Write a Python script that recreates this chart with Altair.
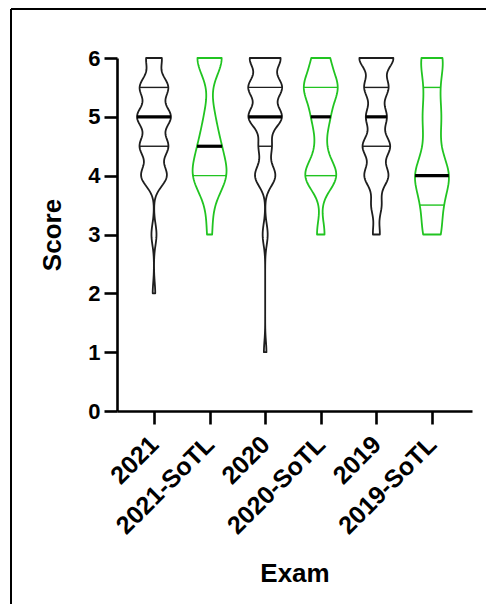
import json
import altair as alt
import pandas as pd

# ---------------- data ----------------
EXAMS = ["2021", "2021-SoTL", "2020", "2020-SoTL", "2019", "2019-SoTL"]
SCORES = [1, 2, 3, 3.5, 4, 4.5, 5, 5.5, 6]
# number of students per score (same order as SCORES)
COUNTS_2021 = [0, 1, 2, 0, 10, 11, 13, 11, 6]
COUNTS_2021_SOTL = [0, 0, 1, 1, 7, 4, 2, 0, 6]
COUNTS_2020 = [1, 0, 2, 0, 8, 5, 13, 13, 12]
COUNTS_2020_SOTL = [0, 0, 1, 0, 4, 1, 2, 4, 2]
COUNTS_2019 = [0, 0, 2, 3, 7, 8, 6, 7, 10]
COUNTS_2019_SOTL = [0, 0, 3, 3, 6, 2, 3, 2, 4]
COUNTS = [COUNTS_2021, COUNTS_2021_SOTL, COUNTS_2020,
          COUNTS_2020_SOTL, COUNTS_2019, COUNTS_2019_SOTL]
Q1 = [4.5, 4.0, 4.5, 4.0, 4.5, 3.5]
MEDIAN = [5.0, 4.5, 5.0, 5.0, 5.0, 4.0]
Q3 = [5.5, 6.0, 5.5, 5.5, 5.5, 5.5]
BANDWIDTH = [0.18, 0.3, 0.18, 0.25, 0.18, 0.3]
Y_TICKS = [0, 1, 2, 3, 4, 5, 6]

BLACK = "#1e1e1e"
GREEN = "#21c421"
COLORS = [BLACK, GREEN, BLACK, GREEN, BLACK, GREEN]
FONT = "Liberation Sans"
HALF = 0.305  # half violin width in category units

rows = []
for name, counts in zip(EXAMS, COUNTS):
    for s, c in zip(SCORES, counts):
        rows += [{"exam": name, "score": s}] * c
raw = pd.DataFrame(rows)

x_scale = alt.Scale(domain=[0.335, 6.72], nice=False, zero=False)
y_scale = alt.Scale(domain=[0, 6], nice=False, zero=True)
x_axis = alt.Axis(values=list(range(1, len(EXAMS) + 1)),
                  labelExpr=json.dumps(EXAMS) + "[datum.value - 1]",
                  labelAngle=-45, labelAlign="right", labelBaseline="middle",
                  labelFont=FONT, labelFontSize=25, labelFontWeight="bold",
                  labelColor="black", labelPadding=16, labelFlush=False,
                  labelOverlap=False, tickSize=13, tickWidth=2.6,
                  tickColor="black", domainWidth=2.6, domainColor="black",
                  grid=False, title="Exam", titleFont=FONT, titleFontSize=26,
                  titleFontWeight="bold", titleColor="black", titlePadding=22)
y_axis = alt.Axis(values=Y_TICKS, format="d", labelFont=FONT,
                  labelFontSize=22, labelFontWeight="bold", labelColor="black",
                  labelPadding=4, labelFlush=False, tickSize=13, tickWidth=2.6,
                  tickColor="black", domainWidth=2.6, domainColor="black",
                  grid=False, title="Score", titleFont=FONT, titleFontSize=26,
                  titleFontWeight="bold", titleColor="black", titlePadding=22)

layers = []
for i, name in enumerate(EXAMS):
    pos = i + 1
    present = [s for s, c in zip(SCORES, COUNTS[i]) if c > 0]
    lo, hi = min(present), max(present)
    steps = int(round((hi - lo) / 0.025))
    base = (alt.Chart(raw)
            .transform_filter(alt.datum.exam == name)
            .transform_density("score", as_=["value", "density"],
                               bandwidth=BANDWIDTH[i], extent=[lo, hi],
                               steps=steps)
            .transform_joinaggregate(maxd="max(density)")
            .transform_calculate(
                left=f"{pos} - datum.density / datum.maxd * {HALF}",
                right=f"{pos} + datum.density / datum.maxd * {HALF}"))
    area = base.mark_area(orient="horizontal", fill="white", stroke=COLORS[i],
                          strokeWidth=1.8, strokeJoin="round").encode(
        y=alt.Y("value:Q", scale=y_scale, axis=y_axis),
        x=alt.X("left:Q", scale=x_scale, axis=x_axis),
        x2="right:Q")
    layers.append(area)
    for q, sw, col in [(Q1[i], 1.4, COLORS[i]), (Q3[i], 1.4, COLORS[i]),
                       (MEDIAN[i], 3.2, "black")]:
        rule = (base.transform_filter(f"abs(datum.value - {q}) < 0.0126")
                .transform_calculate(qv=f"{q}")
                .mark_rule(color=col, strokeWidth=sw)
                .encode(y=alt.Y("qv:Q", scale=y_scale, axis=y_axis),
                        x=alt.X("left:Q", scale=x_scale, axis=x_axis),
                        x2="right:Q"))
        layers.append(rule)

frame_src = pd.DataFrame({"k": [0]})
frame_top = alt.Chart(frame_src).mark_rule(color="black", strokeWidth=2).encode(
    x=alt.value(-106), x2=alt.value(520), y=alt.value(-49))
frame_left = alt.Chart(frame_src).mark_rule(color="black", strokeWidth=2).encode(
    x=alt.value(-106), y=alt.value(-49), y2=alt.value(600))
layers += [frame_top, frame_left]

chart = alt.layer(*layers).properties(
    width=355, height=353,
    autosize=alt.AutoSizeParams(type="none"),
    padding={"left": 109, "top": 50, "right": 14, "bottom": 193},
    background="white",
).configure_view(stroke=None)

chart.save("out.html", embed_options={"renderer": "svg", "actions": False})
